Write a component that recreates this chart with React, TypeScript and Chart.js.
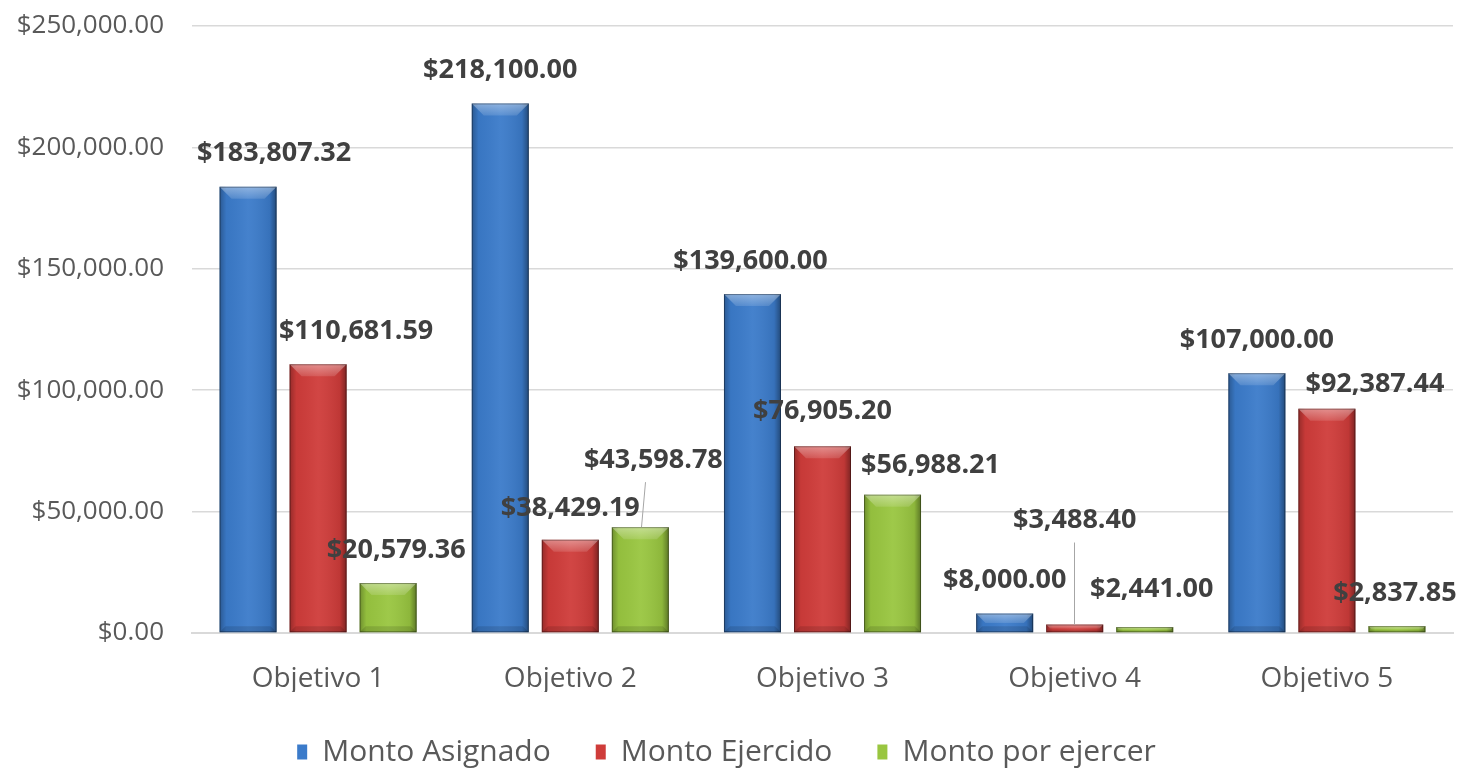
import React, { useEffect, useRef } from "react";
import { Chart, registerables } from "chart.js";

Chart.register(...registerables);

const categories = ["Objetivo 1", "Objetivo 2", "Objetivo 3", "Objetivo 4", "Objetivo 5"];
const montoAsignado = [183807.32, 218100.0, 139600.0, 8000.0, 107000.0];
const montoEjercido = [110681.59, 38429.19, 76905.2, 3488.4, 92387.44];
const montoPorEjercer = [20579.36, 43598.78, 56988.21, 2441.0, 2837.85];
const seriesNames = ["Monto Asignado", "Monto Ejercido", "Monto por ejercer"];
const yTicks = [0, 50000, 100000, 150000, 200000, 250000];

const colors = ["#3b7bca", "#cf3c3a", "#99c640"];
const FONT = "'Open Sans'";

// label placement tweaks (dx, dy in px relative to default, leader line flag)
const labelTweaks: number[][][] = [
  [[26, 0, 0], [0, 0, 0], [-2, 0, 0], [0, 0, 0], [0, 0, 0]],
  [[38, 0, 0], [0, 2, 0], [0, -2, 0], [0, -71, 1], [48, 9, 0]],
  [[8, 0, 0], [13, -34, 1], [38, 4, 0], [7, -5, 0], [-2, 0, 0]],
];

const fmt = (v: number) =>
  "$" + v.toLocaleString("en-US", { minimumFractionDigits: 2, maximumFractionDigits: 2 });

const bevelPlugin = {
  id: "bevel",
  afterDatasetsDraw(chart: any) {
    const ctx = chart.ctx;
    chart.data.datasets.forEach((ds: any, i: number) => {
      const meta = chart.getDatasetMeta(i);
      meta.data.forEach((bar: any) => {
        const w = bar.width;
        const left = bar.x - w / 2;
        const right = bar.x + w / 2;
        const top = bar.y;
        const bottom = bar.base;
        const h = bottom - top;
        if (h <= 0) return;
        ctx.save();
        const g = ctx.createLinearGradient(left, 0, right, 0);
        g.addColorStop(0, "rgba(0,0,0,0.28)");
        g.addColorStop(0.12, "rgba(0,0,0,0.04)");
        g.addColorStop(0.5, "rgba(255,255,255,0.05)");
        g.addColorStop(0.88, "rgba(0,0,0,0.08)");
        g.addColorStop(1, "rgba(0,0,0,0.40)");
        ctx.fillStyle = g;
        ctx.fillRect(left, top, w, h);
        const b = Math.min(12, h / 2);
        // top bevel
        const tg = ctx.createLinearGradient(0, top, 0, top + b);
        tg.addColorStop(0, "rgba(255,255,255,0.40)");
        tg.addColorStop(1, "rgba(255,255,255,0.12)");
        ctx.beginPath();
        ctx.moveTo(left, top);
        ctx.lineTo(right, top);
        ctx.lineTo(right - b, top + b);
        ctx.lineTo(left + b, top + b);
        ctx.closePath();
        ctx.fillStyle = tg;
        ctx.fill();
        // bottom bevel
        const bb = Math.min(6, h / 3);
        ctx.beginPath();
        ctx.moveTo(left, bottom);
        ctx.lineTo(right, bottom);
        ctx.lineTo(right - bb, bottom - bb);
        ctx.lineTo(left + bb, bottom - bb);
        ctx.closePath();
        ctx.fillStyle = "rgba(0,0,0,0.12)";
        ctx.fill();
        ctx.strokeStyle = "rgba(0,0,0,0.35)";
        ctx.lineWidth = 1;
        ctx.strokeRect(left + 0.5, top + 0.5, w - 1, h - 1);
        ctx.restore();
      });
    });
  },
};

const labelPlugin = {
  id: "valueLabels",
  afterDraw(chart: any) {
    const ctx = chart.ctx;
    ctx.save();
    ctx.font = "bold 27px " + FONT;
    ctx.fillStyle = "#404040";
    ctx.textAlign = "center";
    ctx.textBaseline = "middle";
    chart.data.datasets.forEach((ds: any, i: number) => {
      const meta = chart.getDatasetMeta(i);
      meta.data.forEach((bar: any, j: number) => {
        const [dx, dy, leader] = labelTweaks[i][j];
        const x = bar.x + dx;
        const y = bar.y - 33 + dy;
        if (leader) {
          ctx.save();
          ctx.strokeStyle = "#a6a6a6";
          ctx.lineWidth = 1;
          ctx.beginPath();
          ctx.moveTo(Math.round(x - (dx ? 8 : 1)) + 0.5, y + 22);
          ctx.lineTo(Math.round(bar.x + (dx ? 1 : -1)) + 0.5, bar.y);
          ctx.stroke();
          ctx.restore();
        }
        ctx.fillText(fmt(ds.data[j]), x, y);
      });
    });
    ctx.restore();
  },
};

export default function App() {
  const ref = useRef<HTMLCanvasElement>(null);
  useEffect(() => {
    if (!ref.current) return;
    const series = [montoAsignado, montoEjercido, montoPorEjercer];
    const chart = new Chart(ref.current, {
      type: "bar",
      data: {
        labels: categories,
        datasets: series.map((d, i) => ({
          label: seriesNames[i],
          data: d,
          backgroundColor: colors[i],
          borderWidth: 0,
          categoryPercentage: 0.833,
          barPercentage: 0.814,
        })),
      },
      options: {
        animation: false,
        responsive: false,
        maintainAspectRatio: false,
        layout: { padding: { top: 26, right: 20, left: 0, bottom: 0 } },
        scales: {
          x: {
            afterFit: (s: any) => {
              s.height = 59;
            },
            grid: { display: false, drawTicks: false },
            border: { display: true, color: "#d9d9d9", width: 2 },
            ticks: { color: "#595959", font: { family: FONT, size: 28 }, padding: 29 },
          },
          y: {
            min: 0,
            max: 250000,
            afterFit: (s: any) => {
              s.width = 192;
              s.paddingTop = 0;
              s.paddingBottom = 0;
            },
            afterBuildTicks: (s: any) => {
              s.ticks = yTicks.map((v) => ({ value: v }));
            },
            grid: { color: "#d9d9d9", lineWidth: 1.5, drawTicks: false },
            border: { display: false },
            ticks: {
              color: "#595959",
              font: { family: FONT, size: 26 },
              padding: 28,
              callback: (v: any) => fmt(Number(v)),
            },
          },
        },
        plugins: {
          legend: {
            position: "bottom",
            maxHeight: 79,
            labels: {
              color: "#595959",
              font: { family: FONT, size: 30 },
              boxWidth: 10,
              boxHeight: 15,
              padding: 45,
            },
          },
          tooltip: { enabled: false },
        },
      },
      plugins: [bevelPlugin, labelPlugin],
    });
    return () => chart.destroy();
  }, []);
  return (
    <div style={{ position: "absolute", left: 0, top: 0, width: 1473, height: 771, background: "#fff" }}>
      <canvas ref={ref} width={1473} height={771} />
    </div>
  );
}
